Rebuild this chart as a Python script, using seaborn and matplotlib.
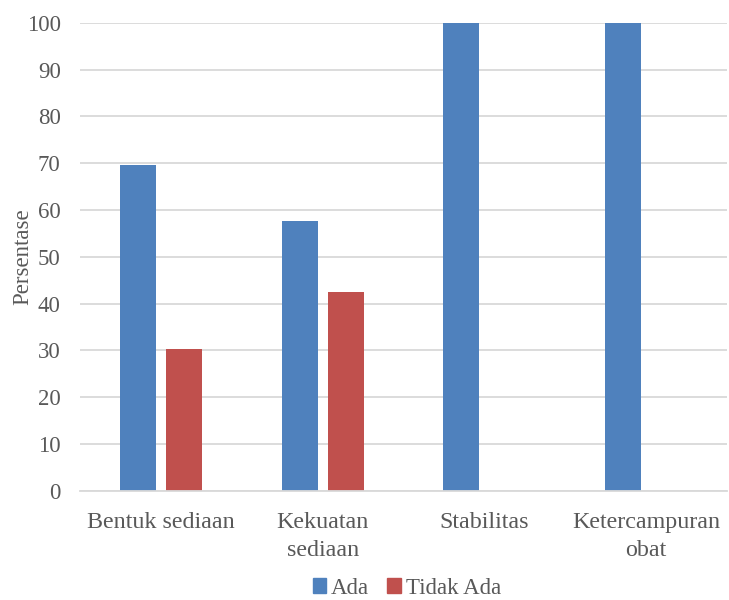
import matplotlib
matplotlib.use("Agg")
import matplotlib.pyplot as plt
import seaborn as sns
import pandas as pd
from matplotlib.patches import Patch

categories = ["Bentuk sediaan", "Kekuatan\nsediaan", "Stabilitas", "Ketercampuran\nobat"]
ada = [69.7, 57.6, 100, 100]
tidak_ada = [30.3, 42.4, 0, 0]
series = ["Ada", "Tidak Ada"]
yticks = list(range(0, 101, 10))

df = pd.DataFrame({
    "Kategori": categories * 2,
    "Persentase": ada + tidak_ada,
    "Seri": [series[0]] * 4 + [series[1]] * 4,
})

sns.set_theme(style="white")
plt.rcParams["font.family"] = ["Liberation Serif", "DejaVu Serif"]
txt = "#595959"
blue, red = "#4F81BD", "#C0504D"

fig = plt.figure(figsize=(7.29, 6.0), dpi=100)
ax = fig.add_axes([0.11, 0.182, 0.887, 0.78])
sns.barplot(data=df, x="Kategori", y="Persentase", hue="Seri",
            palette=[blue, red], saturation=1, width=0.568, gap=0.218,
            ax=ax, legend=False, edgecolor="none")
ax.set_ylim(0, 100)
ax.set_xlim(-0.5, 3.5)
ax.set_yticks(yticks)
ax.yaxis.grid(True, color="#D9D9D9", linewidth=1.3)
ax.set_axisbelow(True)
for s in ["top", "right", "left"]:
    ax.spines[s].set_visible(False)
ax.spines["bottom"].set_color("#D9D9D9")
ax.spines["bottom"].set_linewidth(1.3)
ax.tick_params(axis="both", length=0, colors=txt)
ax.tick_params(axis="y", pad=14, labelsize=16.5)
ax.tick_params(axis="x", pad=15, labelsize=17.3)
ax.set_xlabel("")
ax.set_ylabel("")
for lbl in ax.get_xticklabels():
    lbl.set_linespacing(1.45)
fig.text(23 / 729, 1 - 257 / 600, "Persentase", rotation=90, fontsize=16.5,
         color=txt, ha="center", va="center")

handles = [Patch(color=blue, label="Ada"), Patch(color=red, label="Tidak Ada")]
fig.legend(handles=handles, loc="center", bbox_to_anchor=(0.558, 0.02), ncol=2,
           frameon=False, fontsize=16.5, handlelength=0.6, handleheight=0.6,
           handletextpad=0.2, columnspacing=0.8, labelcolor=txt)

fig.savefig("out.png", dpi=100)
